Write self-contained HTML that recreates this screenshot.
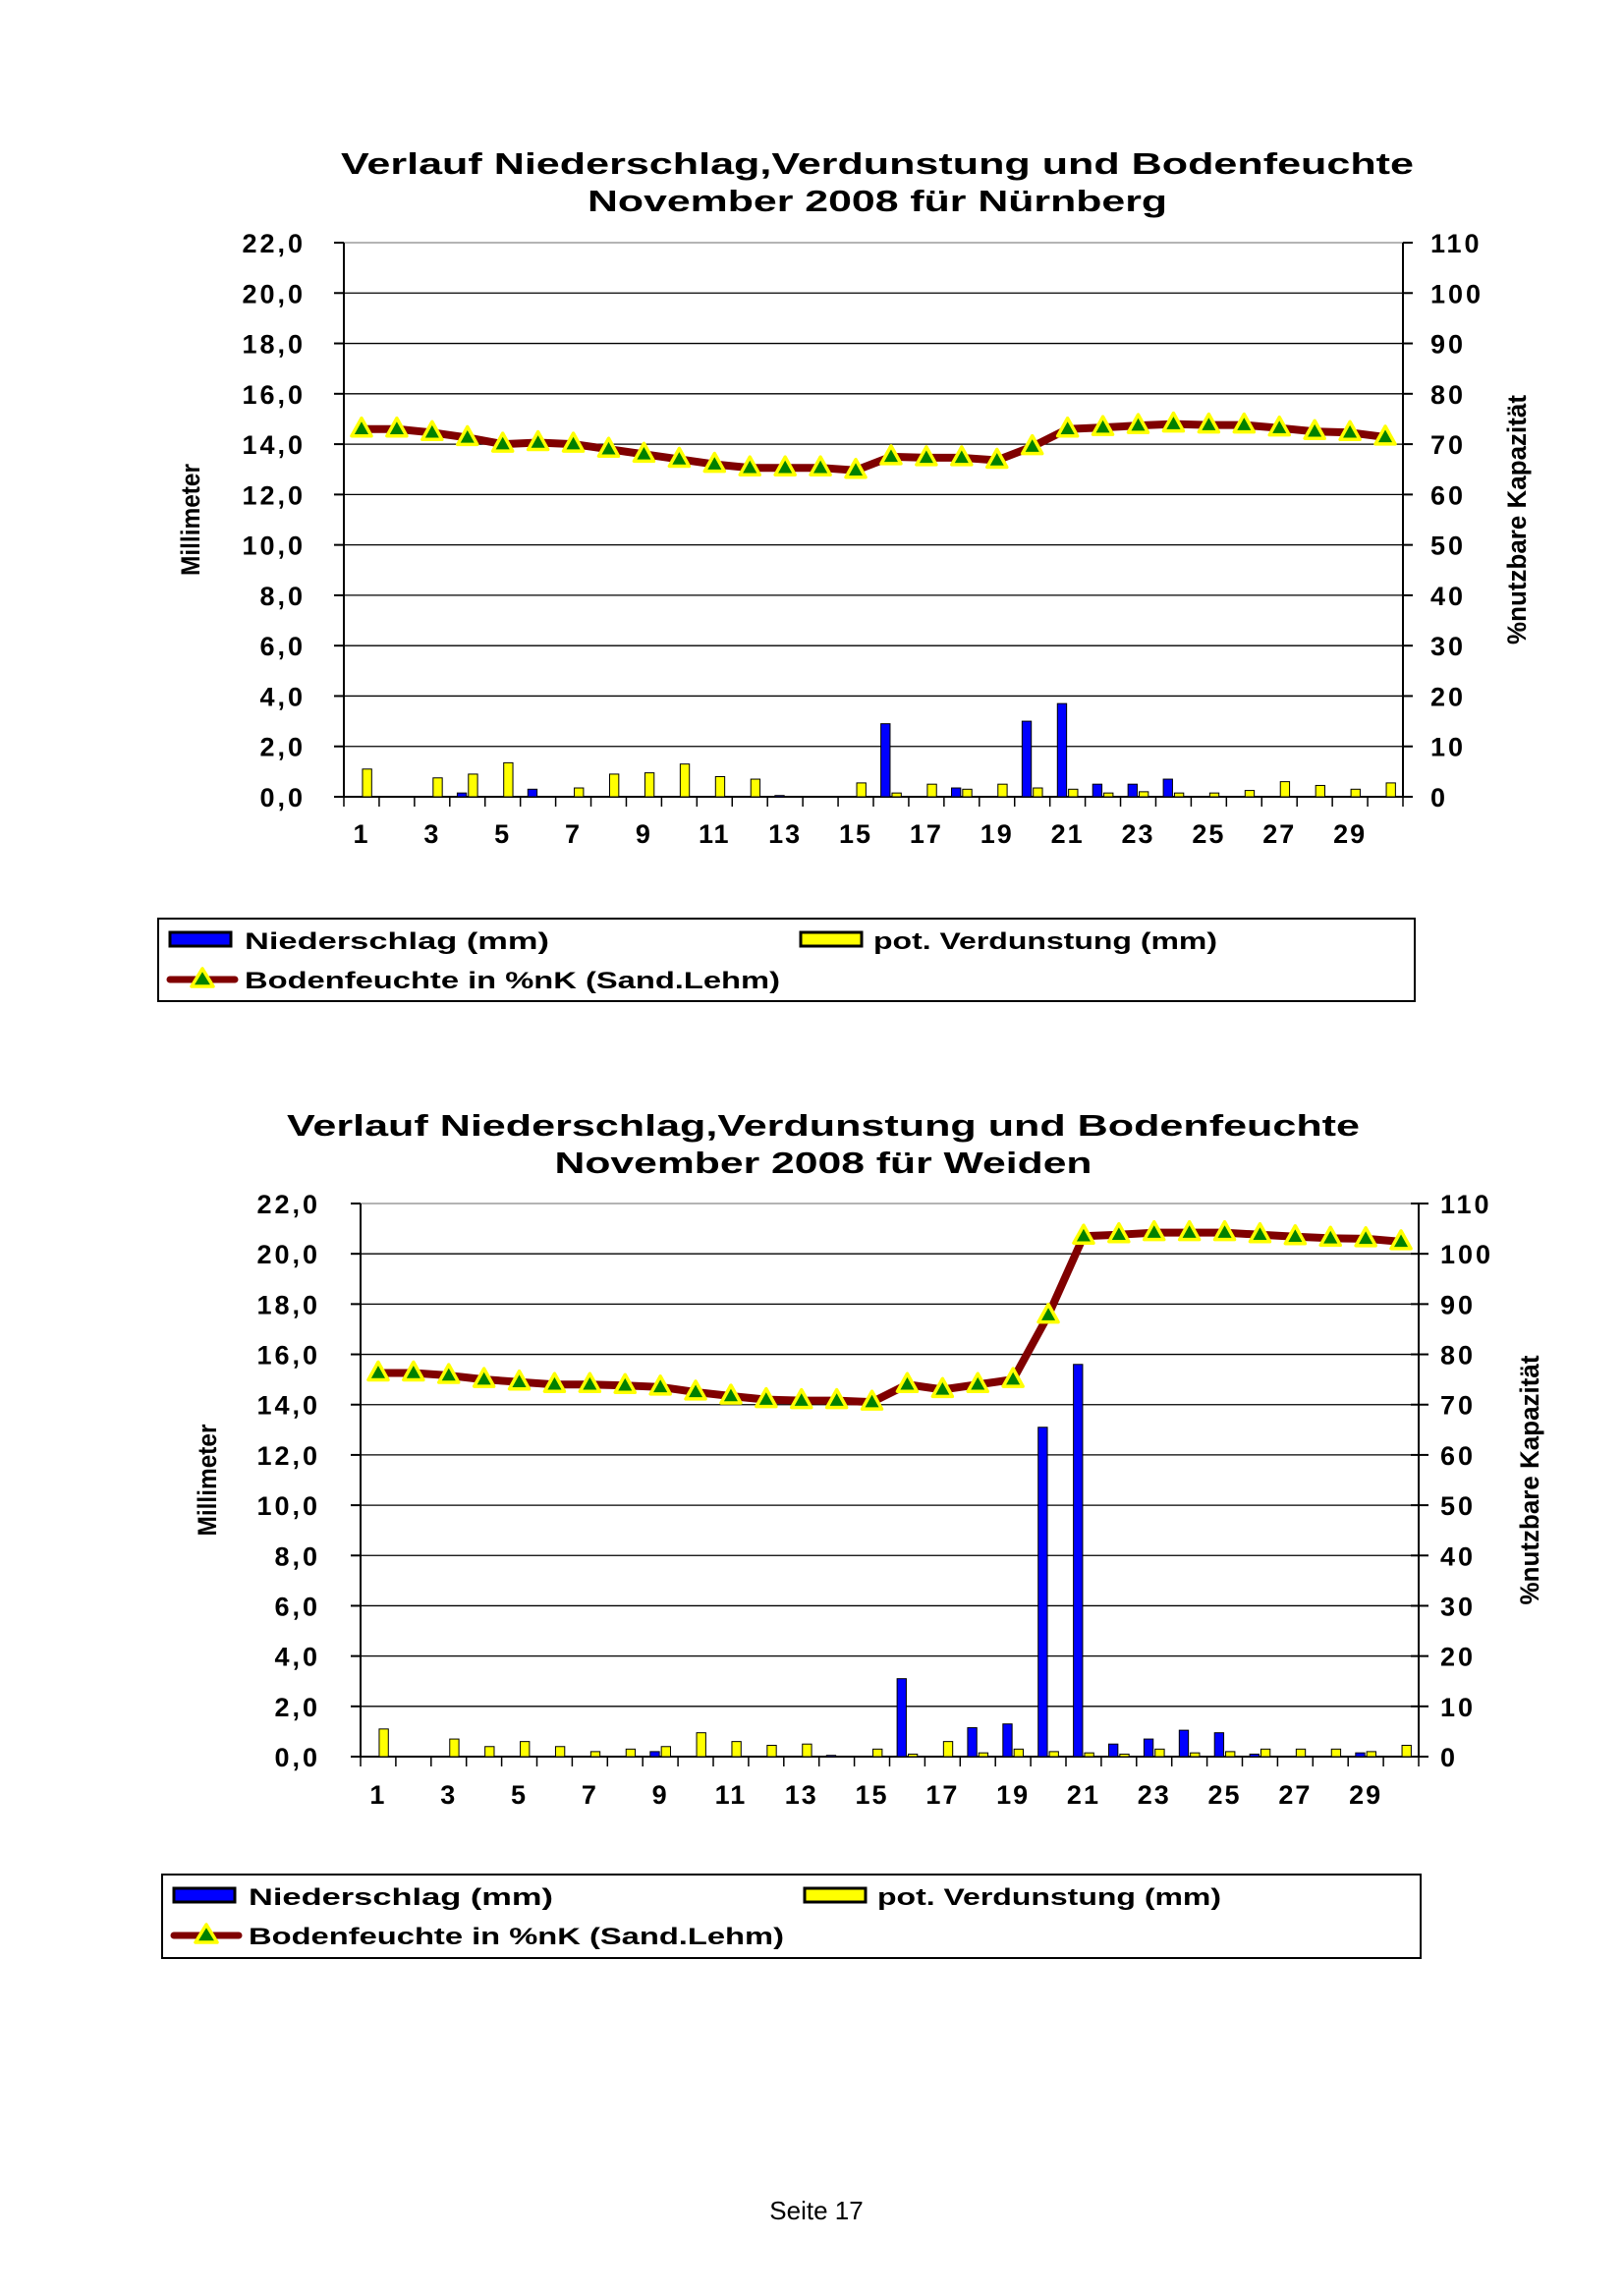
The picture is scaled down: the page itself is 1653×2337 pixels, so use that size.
<!DOCTYPE html>
<html><head><meta charset="utf-8"><style>
html,body{margin:0;padding:0;background:#fff;}
svg{display:block;font-family:"Liberation Sans",Arial,sans-serif;}
</style></head><body>
<svg id="page" xmlns="http://www.w3.org/2000/svg" width="1653" height="2337" viewBox="0 0 1653 2337">
<rect x="0" y="0" width="1653" height="2337" fill="#fff"/>
<text x="831" y="2259" font-size="26" text-anchor="middle" fill="#000">Seite 17</text>
</svg>
<script>
// Shared categories and tick labels
const days = Array.from({length:30},(_,i)=>i+1);
const leftTicks = [0,2,4,6,8,10,12,14,16,18,20,22];
const rightTicks = [0,10,20,30,40,50,60,70,80,90,100,110];

// Chart 1: Nürnberg
const nbgRain = [0,0,0,0.15,0,0.3,0,0,0,0,0,0,0.05,0,0,2.9,0,0.35,0,3.0,3.7,0.5,0.5,0.7,0,0,0,0,0,0];
const nbgEvap = [1.1,0,0.75,0.9,1.35,0,0.35,0.9,0.95,1.3,0.8,0.7,0,0,0.55,0.15,0.5,0.3,0.5,0.35,0.3,0.15,0.2,0.15,0.15,0.25,0.6,0.45,0.3,0.55];
const nbgSoil = [73,73,72.3,71.3,70,70.3,70,69,68,67,66,65.3,65.3,65.3,64.8,67.5,67.3,67.3,66.8,69.5,73,73.3,73.7,74,73.8,73.8,73.2,72.5,72.3,71.4];

// Chart 2: Weiden
const wdnRain = [0,0,0,0,0,0,0,0,0.2,0,0,0,0,0.05,0,3.1,0,1.15,1.3,13.1,15.6,0.5,0.7,1.05,0.95,0.1,0,0,0.15,0];
const wdnEvap = [1.1,0,0.7,0.4,0.6,0.4,0.2,0.3,0.4,0.95,0.6,0.45,0.5,0,0.3,0.1,0.6,0.15,0.3,0.2,0.15,0.1,0.3,0.15,0.2,0.3,0.3,0.3,0.2,0.45];
const wdnSoil = [76.3,76.3,75.8,75,74.5,74,74,73.8,73.5,72.5,71.7,71,70.8,70.8,70.5,74,73,74,75,87.8,103.5,103.8,104.2,104.2,104.2,103.8,103.4,103.1,103,102.4];

const NS='http://www.w3.org/2000/svg';
const svg=document.getElementById('page');
function mk(tag,attrs,parent,text){const e=document.createElementNS(NS,tag);for(const k in attrs)e.setAttribute(k,attrs[k]);if(text!==undefined)e.textContent=text;(parent||svg).appendChild(e);return e;}

function drawChart(cfg,rain,evap,soil){
  const g=mk('g',{});
  
  
  const L=cfg.L,R=cfg.R,T=cfg.T,B=cfg.B;
  const yL=v=>B-(v/22)*(B-T);
  const yR=v=>B-(v/110)*(B-T);
  const bw=(R-L)/days.length;
  const xc=i=>L+bw*(i+0.5);
  const t1=mk('text',{x:cfg.cx,y:cfg.t1y,'font-size':31,'font-weight':'bold','text-anchor':'middle',textLength:cfg.t1w,lengthAdjust:'spacingAndGlyphs'},g,'Verlauf Niederschlag,Verdunstung und Bodenfeuchte');
  
  
  const t2=mk('text',{x:cfg.cx,y:cfg.t1y+38,'font-size':31,'font-weight':'bold','text-anchor':'middle',textLength:cfg.t2w,lengthAdjust:'spacingAndGlyphs'},g,cfg.sub);
  
  
  leftTicks.forEach((v,i)=>{
    const y=yL(v);
    const gl=mk('line',{x1:L,x2:R,y1:y,y2:y,stroke:(v===22?'#888':'#000'),'stroke-width':1.3},g);
    
    
    mk('line',{x1:L-10,x2:L,y1:y,y2:y,stroke:'#000','stroke-width':2},g);
    mk('line',{x1:R,x2:R+(cfg.rtick||8),y1:y,y2:y,stroke:'#000','stroke-width':2},g);
    if(cfg.rtickIn) mk('line',{x1:R-8,x2:R,y1:y,y2:y,stroke:'#000','stroke-width':2},g);
    const lt=mk('text',{x:cfg.lLabX,y:y+10,'font-size':27,'font-weight':'bold','text-anchor':'end','letter-spacing':3},g,v.toFixed(1).replace('.',','));
    
    
    const rt=mk('text',{x:cfg.rLabX,y:yR(rightTicks[i])+10,'font-size':27,'font-weight':'bold','letter-spacing':3},g,String(rightTicks[i]));
    
    
  });
  mk('line',{x1:L,x2:L,y1:T,y2:B,stroke:'#000','stroke-width':2},g);
  mk('line',{x1:R,x2:R,y1:T,y2:B,stroke:'#000','stroke-width':2},g);
  mk('line',{x1:L,x2:R,y1:B,y2:B,stroke:'#000','stroke-width':2},g);
  for(let i=0;i<=days.length;i++){mk('line',{x1:L+bw*i,x2:L+bw*i,y1:B,y2:B+10,stroke:'#000','stroke-width':1.5},g);}
  const barW=bw*0.26;
  days.forEach((d,i)=>{
    if(rain[i]>0){
      const b=mk('rect',{x:xc(i)-barW-1,y:yL(rain[i]),width:barW,height:B-yL(rain[i]),fill:'#0000ff',stroke:'#000','stroke-width':1},g);
      
      
    }
    if(evap[i]>0){
      const b=mk('rect',{x:xc(i)+1,y:yL(evap[i]),width:barW,height:B-yL(evap[i]),fill:'#ffff00',stroke:'#000','stroke-width':1},g);
      
      
    }
    if(i%2===0){
      const xl=mk('text',{x:xc(i),y:cfg.xLabY,'font-size':27,'font-weight':'bold','text-anchor':'middle','letter-spacing':2},g,String(d));
      
      
    }
  });
  const pts=soil.map((v,i)=>xc(i)+','+yR(v)).join(' ');
  const pl=mk('polyline',{points:pts,fill:'none',stroke:'#800000','stroke-width':8,'stroke-linejoin':'round','stroke-linecap':'round'},g);
  
  
  soil.forEach((v,i)=>{
    const x=xc(i),y=yR(v);
    const m=mk('polygon',{points:`${x},${y-11} ${x-10},${y+7} ${x+10},${y+7}`,fill:'#008000',stroke:'#ffff00','stroke-width':3.5,'stroke-linejoin':'round'},g);
    
    
  });
  const at=mk('text',{x:0,y:0,'font-size':27,'font-weight':'bold','text-anchor':'middle',textLength:114,lengthAdjust:'spacingAndGlyphs',transform:`translate(${cfg.ltX},${(T+B)/2}) rotate(-90)`},g,'Millimeter');
  
  
  const at2=mk('text',{x:0,y:0,'font-size':27,'font-weight':'bold','text-anchor':'middle',textLength:254,lengthAdjust:'spacingAndGlyphs',transform:`translate(${cfg.rtX},${(T+B)/2}) rotate(-90)`},g,'%nutzbare Kapazität');
  
  
  const lg=mk('g',{},g);
  
  
  mk('rect',{x:cfg.lgX,y:cfg.lgY,width:cfg.lgW,height:cfg.lgH,fill:'#fff',stroke:'#000','stroke-width':2},lg);
  const r1=cfg.lgY+22,r2=cfg.lgY+62;
  const e1=mk('g',{},lg);
  
  
  mk('rect',{x:cfg.lgX+12,y:r1-8,width:62,height:14,fill:'#0000ff',stroke:'#000','stroke-width':3},e1);
  mk('text',{x:cfg.lgX+88,y:r1+9,'font-size':24,'font-weight':'bold',textLength:310,lengthAdjust:'spacingAndGlyphs'},e1,'Niederschlag (mm)');
  const e2=mk('g',{},lg);
  
  
  mk('rect',{x:cfg.lgX+654,y:r1-8,width:62,height:14,fill:'#ffff00',stroke:'#000','stroke-width':3},e2);
  mk('text',{x:cfg.lgX+728,y:r1+9,'font-size':24,'font-weight':'bold',textLength:350,lengthAdjust:'spacingAndGlyphs'},e2,'pot. Verdunstung (mm)');
  const e3=mk('g',{},lg);
  
  
  mk('line',{x1:cfg.lgX+12,x2:cfg.lgX+78,y1:r2,y2:r2,stroke:'#800000','stroke-width':7,'stroke-linecap':'round'},e3);
  const lx=cfg.lgX+45;
  mk('polygon',{points:`${lx},${r2-11} ${lx-11},${r2+7} ${lx+11},${r2+7}`,fill:'#008000',stroke:'#ffff00','stroke-width':3.5,'stroke-linejoin':'round'},e3);
  mk('text',{x:cfg.lgX+88,y:r2+9,'font-size':24,'font-weight':'bold',textLength:545,lengthAdjust:'spacingAndGlyphs'},e3,'Bodenfeuchte in %nK (Sand.Lehm)');
}

drawChart({name:'chart-nuernberg',L:350,R:1428,T:247,B:811,cx:893,t1y:177,t1w:1092,t2w:590,sub:'November 2008 für Nürnberg',
  lLabX:311,rLabX:1456,xLabY:858,ltX:203,rtX:1553,lgX:161,lgY:935,lgW:1279,lgH:84,rtick:10},nbgRain,nbgEvap,nbgSoil);
drawChart({name:'chart-weiden',L:367,R:1444,T:1225,B:1788,cx:838,t1y:1156,t1w:1092,t2w:547,sub:'November 2008 für Weiden',
  lLabX:326,rLabX:1466,xLabY:1836,ltX:220,rtX:1566,lgX:165,lgY:1908,lgW:1281,lgH:85,rtick:10,rtickIn:true},wdnRain,wdnEvap,wdnSoil);
</script>
</body></html>
